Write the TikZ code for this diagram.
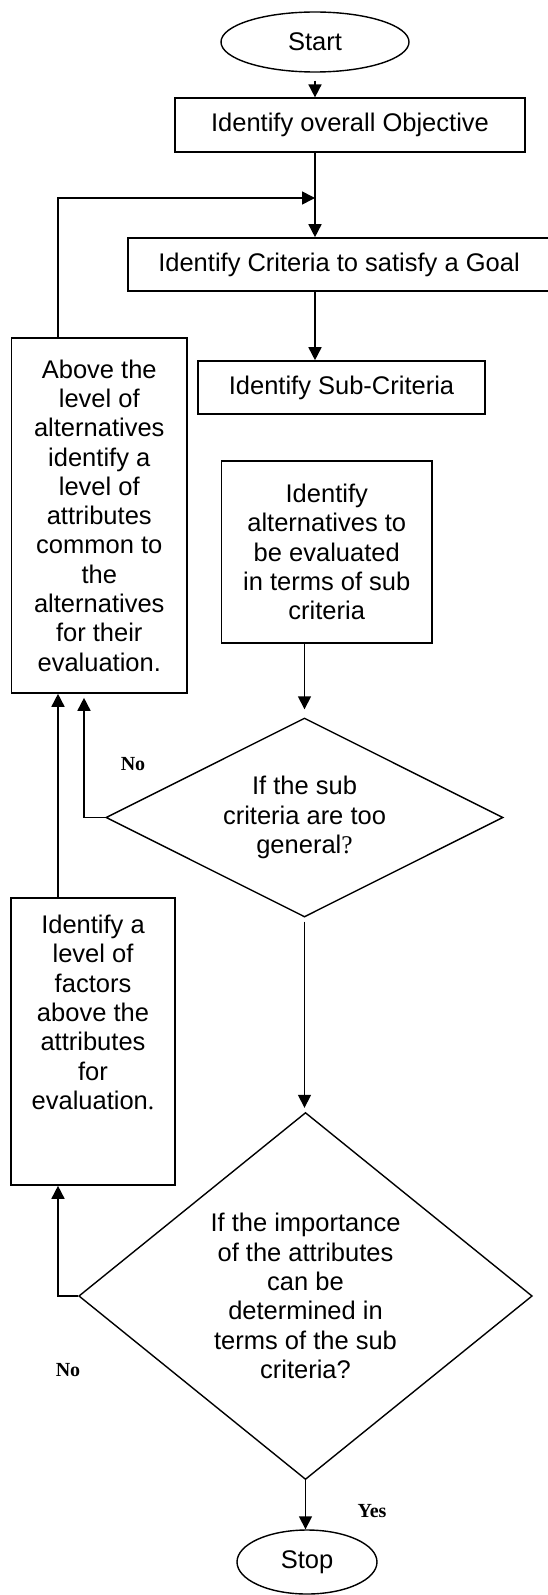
\documentclass[tikz,border=0pt]{standalone}
\usepackage{fontspec}
\setmainfont{Liberation Sans}
\newfontfamily\answerfont{Liberation Serif}
\usetikzlibrary{shapes.geometric,
                arrows.meta,
                calc}

\begin{document}
\begin{tikzpicture}
       [x=0.5pt,y=-0.5pt,
        font=\fontsize{12.75}{14.65}\selectfont,
        process/.style={shape=rectangle,draw=black,line width=0.8pt,
                        align=center,inner sep=0pt},
        decision/.style={shape=diamond,draw=black,line width=0.7pt,
                         align=center,inner sep=0pt},
        terminal/.style={shape=ellipse,draw=black,line width=0.7pt,
                         inner sep=0pt},
        flow/.style={draw=black,line width=0.8pt,
                     -{Triangle[length=6.5pt,width=6.5pt]}},
        answer/.style={font=\answerfont\bfseries\fontsize{10}{12}\selectfont}]
       \useasboundingbox (0,0) rectangle (547,1595);

       % main column
       \node [terminal,minimum width=94pt,minimum height=30pt] (start) at (315,42) {Start};
       \node [process,minimum width=175.25pt,minimum height=26.8pt] (objective) at (350,125)
             {Identify overall Objective};
       \node [process,minimum width=211pt,minimum height=26.5pt] (criteria) at (339,264.5)
             {Identify Criteria to satisfy a Goal};
       \node [process,minimum width=143.5pt,minimum height=26.5pt] (subcrit) at (341.5,387.5)
             {Identify Sub-Criteria};
       \node [process,minimum width=105.25pt,minimum height=91pt] (alternatives) at (326.75,552)
             {Identify\\ alternatives to\\ be evaluated\\ in terms of sub\\ criteria};
       \node [decision,aspect=2,minimum width=198.5pt,minimum height=99.5pt] (general) at (304.5,817.5)
             {If the sub\\ criteria are too\\ general{\answerfont ?}};
       \node [decision,aspect=1.23,minimum width=226.75pt,minimum height=183.5pt] (importance) at (305.5,1296)
             {If the importance\\ of the attributes\\ can be\\ determined in\\ terms of the sub\\ criteria?};
       \node [terminal,minimum width=70pt,minimum height=32pt] (stop) at (307,1562) {Stop};

       % left column
       \node [process,minimum width=87.75pt,minimum height=177.5pt] (attributes) at (99.25,515.5)
             {Above the\\ level of\\ alternatives\\ identify a\\ level of\\ attributes\\ common to\\ the\\ alternatives\\ for their\\ evaluation.};
       \node [process,minimum width=82pt,minimum height=143.5pt] (factors) at (93,1041.5)
             {Identify a\\ level of\\ factors\\ above the\\ attributes\\ for\\ evaluation{\answerfont .}\\ \mbox{}\\ \mbox{}};

       % answers
       \node [answer] (no1) at (133,764) {No};
       \node [answer] (no2) at (68,1370) {No};
       \node [answer] (yes) at (372,1511) {Yes};

       \coordinate (spine) at (315,0);
       \coordinate (leftx) at (58,0);
       \coordinate (nox) at (84,0);
       \coordinate (join) at (315,198);

       \draw [flow,shorten <=4pt] (start.south) -- (spine |- objective.north);
       \draw [flow] (spine |- objective.south) -- (spine |- criteria.north);
       \draw [flow] (leftx |- attributes.north) -- (leftx |- join) -- (join);
       \draw [flow] (spine |- criteria.south) -- (spine |- subcrit.north);
       \draw [flow,shorten >=4pt] (general.north |- alternatives.south) -- (general.north);
       \draw [flow,shorten >=2pt] (general.west) -- (nox |- general.west) -- (nox |- attributes.south);
       \draw [flow,shorten <=2pt,shorten >=2pt] (general.south) -- (general.south |- importance.north);
       \draw [flow] (leftx |- factors.north) -- (leftx |- attributes.south);
       \draw [flow] (importance.west) -- (leftx |- importance.west) -- (leftx |- factors.south);
       \draw [flow] (importance.south) -- (importance.south |- stop.north);
\end{tikzpicture}
\end{document}
